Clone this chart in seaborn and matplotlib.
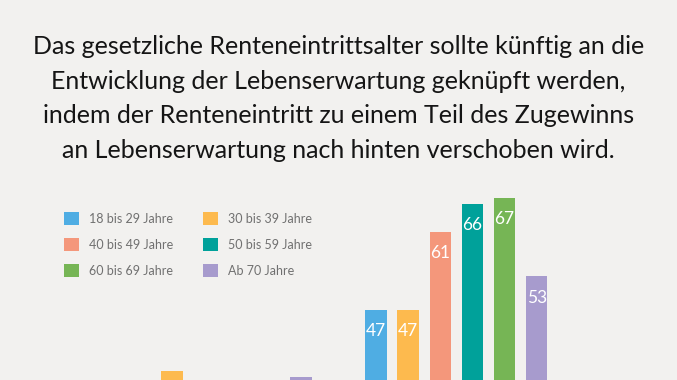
import matplotlib
matplotlib.use("Agg")
import pandas as pd
import seaborn as sns
import matplotlib.pyplot as plt
from matplotlib.patches import Patch

# Daten (Balken links sind im Ausschnitt großteils abgeschnitten -> geschätzt)
antworten = ["Ablehnung", "Zustimmung"]
altersgruppen = ["18 bis 29 Jahre", "30 bis 39 Jahre", "40 bis 49 Jahre",
                 "50 bis 59 Jahre", "60 bis 69 Jahre", "Ab 70 Jahre"]
werte_ablehnung = [30, 36, 26, 22, 20, 35]
werte_zustimmung = [47, 47, 61, 66, 67, 53]
farben = ["#4FADE3", "#FDBA4E", "#F4977B", "#00A19A", "#76B555", "#A79BCD"]

titel = ("Das gesetzliche Renteneintrittsalter sollte künftig an die\n"
         "Entwicklung der Lebenserwartung geknüpft werden,\n"
         "indem der Renteneintritt zu einem Teil des Zugewinns\n"
         "an Lebenserwartung nach hinten verschoben wird.")

df = pd.DataFrame({
    "Antwort": [antworten[0]] * 6 + [antworten[1]] * 6,
    "Alter": altersgruppen * 2,
    "Wert": werte_ablehnung + werte_zustimmung,
})

bg = "#F2F1EF"
sns.set_theme(style="white")
plt.rcParams["font.family"] = ["Lato", "DejaVu Sans"]

W, H = 677, 380
fig = plt.figure(figsize=(W / 100, H / 100), dpi=100, facecolor=bg)
ax = fig.add_axes([0, 0, 1, 1])
ax.set_facecolor(bg)

sns.barplot(data=df, x="Antwort", y="Wert", hue="Alter", hue_order=altersgruppen,
            palette=farben, saturation=1, width=0.8174, gap=0.331,
            linewidth=0, legend=False, ax=ax)

# Werte nur für die sichtbare Gruppe beschriften (linke liegt unter dem Bildrand)
for cont in ax.containers:
    ax.bar_label(cont, labels=["", f"{cont.datavalues[1]:.0f}"],
                 padding=-21, color="white", fontsize=12.5)

ax.set_xlim(-0.934, 1.935)
ax.set_ylim(34.47, 102.5)
ax.axis("off")

# Titel
fig.text(0.5, 1 - 98.5 / H, titel, ha="center", va="center", fontsize=18,
         color="#151515", linespacing=1.62)

# Legende (zeilenweise wie im Original)
reihenfolge = [0, 2, 4, 1, 3, 5]
handles = [Patch(facecolor=farben[i], edgecolor="none") for i in reihenfolge]
labels = [altersgruppen[i] for i in reihenfolge]
fig.legend(handles, labels, ncol=2, loc="upper left",
           bbox_to_anchor=(64 / W, 1 - 212 / H), frameon=False,
           borderpad=0, borderaxespad=0, fontsize=9, labelcolor="#707070",
           handlelength=1.2, handleheight=1.2, handletextpad=0.8,
           labelspacing=1.07, columnspacing=2.35)

fig.savefig("out.png", dpi=100, facecolor=bg)
